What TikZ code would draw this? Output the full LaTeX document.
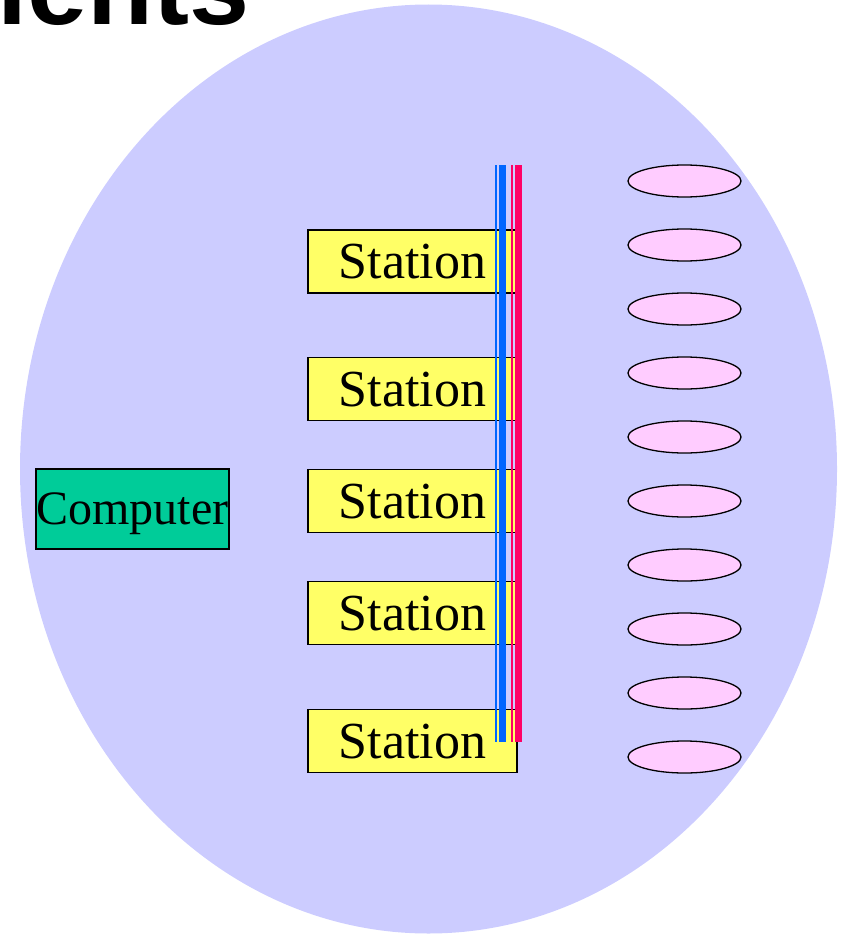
\documentclass[tikz,border=0pt]{standalone}
\usepackage{fontspec}
\setmainfont{Liberation Serif}
\newfontfamily\headfont{Liberation Sans}
\definecolor{cloud}{HTML}{CCCCFF}
\definecolor{pcgreen}{HTML}{00CC99}
\definecolor{stayellow}{HTML}{FFFF66}
\definecolor{buspink}{HTML}{FF0066}
\definecolor{busblue}{HTML}{0066FF}
\definecolor{tagpink}{HTML}{FFCCFF}
\tikzset{
  stabox/.style={draw, line width=1.3pt, fill=stayellow, minimum width=209pt, minimum height=63pt, inner sep=0pt, text height=34pt, text depth=-2pt, font=\fontsize{52}{60}\selectfont},
  tagell/.style={draw, ellipse, line width=1.3pt, fill=tagpink, minimum width=113pt, minimum height=32pt, inner sep=0pt},
}
\usetikzlibrary{shapes.geometric}
\begin{document}
\begin{tikzpicture}[x=1pt, y=-1pt]
\useasboundingbox (0,0) rectangle (842,934);
\fill[cloud] (428.5,469) ellipse [x radius=408.5pt, y radius=464.5pt];
\node[anchor=base east, inner sep=0pt, font=\headfont\bfseries\fontsize{108}{120}\selectfont] (title) at (250,25){ients};
\node[draw, line width=1.3pt, fill=pcgreen, minimum width=193pt, minimum height=80pt, inner sep=0pt, text depth=0pt, font=\fontsize{48}{55}\selectfont] (pc) at (132.5,509){Computer};
\node[stabox] (sta1) at (412.5,261.5){Station};
\node[stabox] (sta2) at (412.5,389){Station};
\node[stabox] (sta3) at (412.5,501){Station};
\node[stabox] (sta4) at (412.5,613){Station};
\node[stabox] (sta5) at (412.5,741){Station};
\coordinate (bustop) at (495.7,165);
\coordinate (busbot) at (495.7,742);
\draw[busblue, line width=2pt] (bustop) -- (busbot);
\draw[busblue, line width=7pt] ([xshift=7pt]bustop) -- ([xshift=7pt]busbot);
\draw[buspink, line width=2pt] ([xshift=16pt]bustop) -- ([xshift=16pt]busbot);
\draw[buspink, line width=7pt] ([xshift=23pt]bustop) -- ([xshift=23pt]busbot);
\node[tagell] (tag1) at (684.5,181){};
\node[tagell] (tag2) at (684.5,245){};
\node[tagell] (tag3) at (684.5,309){};
\node[tagell] (tag4) at (684.5,373){};
\node[tagell] (tag5) at (684.5,437){};
\node[tagell] (tag6) at (684.5,501){};
\node[tagell] (tag7) at (684.5,565){};
\node[tagell] (tag8) at (684.5,629){};
\node[tagell] (tag9) at (684.5,693){};
\node[tagell] (tag10) at (684.5,757){};
\end{tikzpicture}
\end{document}
